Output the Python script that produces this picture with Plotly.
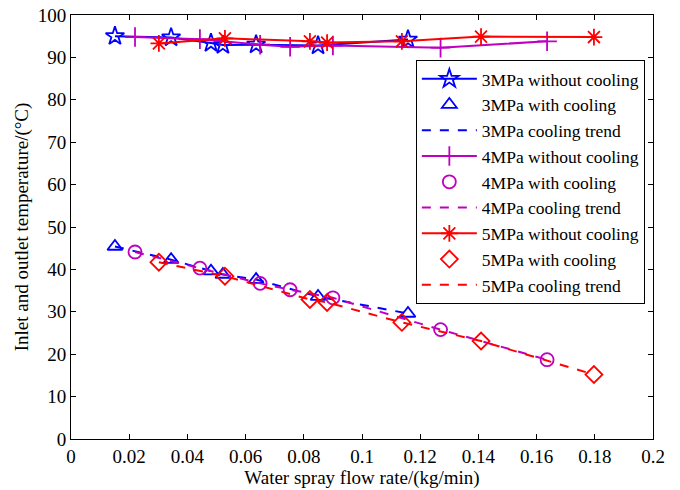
import plotly.graph_objects as go

# 3 MPa
x3 = [0.0151, 0.0344, 0.0481, 0.0522, 0.0636, 0.0849, 0.1158]
t3_no = [95.0, 94.7, 93.4, 92.9, 93.0, 92.8, 94.2]
t3_cool = [45.4, 42.3, 39.6, 38.8, 37.6, 33.6, 29.6]
# 4 MPa
x4 = [0.0220, 0.0443, 0.0650, 0.0753, 0.0900, 0.1270, 0.1636]
t4_no = [94.8, 94.3, 93.0, 92.5, 92.8, 92.3, 93.8]
t4_cool = [44.1, 40.3, 36.7, 35.2, 33.3, 25.8, 18.7]
# 5 MPa
x5 = [0.0302, 0.0529, 0.0821, 0.0880, 0.1137, 0.1409, 0.1797]
t5_no = [93.3, 94.5, 93.8, 93.5, 93.8, 94.9, 94.8]
t5_cool = [41.7, 38.4, 32.9, 32.2, 27.5, 23.1, 15.2]

xticks = [0, 0.02, 0.04, 0.06, 0.08, 0.1, 0.12, 0.14, 0.16, 0.18, 0.2]
xticklabels = ["0", "0.02", "0.04", "0.06", "0.08", "0.1", "0.12", "0.14", "0.16", "0.18", "0.2"]
yticks = [0, 10, 20, 30, 40, 50, 60, 70, 80, 90, 100]

BLUE = "#0000ff"
MAG = "#bf00bf"
RED = "#ff0000"
FONT = "Liberation Serif"
FS = 19

fig = go.Figure()

def add_group(x, tno, tcool, color, sym_no, sym_cool, label):
    fig.add_trace(go.Scatter(
        x=x, y=tno, mode="lines+markers", name=f"{label} without cooling",
        line=dict(color=color, width=2),
        marker=dict(symbol=sym_no, size=14, color=color, line=dict(color=color, width=1.8)),
    ))
    fig.add_trace(go.Scatter(
        x=x, y=tcool, mode="markers", name=f"{label} with cooling",
        marker=dict(symbol=sym_cool, size=13, color=color, line=dict(color=color, width=1.8)),
    ))
    fig.add_trace(go.Scatter(
        x=x, y=tcool, mode="lines", name=f"{label} cooling trend",
        line=dict(color=color, width=2, dash="dash"),
    ))

add_group(x3, t3_no, t3_cool, BLUE, "star-open", "triangle-up-open", "3MPa")
add_group(x4, t4_no, t4_cool, MAG, "cross-thin-open", "circle-open", "4MPa")
add_group(x5, t5_no, t5_cool, RED, "asterisk-open", "diamond-open", "5MPa")

axis_common = dict(
    showgrid=False, zeroline=False, showline=True, linecolor="black", linewidth=1,
    mirror="ticks", ticks="inside", ticklen=5, tickcolor="black", automargin=False,
    tickfont=dict(family=FONT, size=FS, color="black"),
)

fig.update_xaxes(
    range=[0, 0.2], tickvals=xticks, ticktext=xticklabels,
    title=dict(text="Water spray flow rate/(kg/min)", font=dict(family=FONT, size=FS, color="black"), standoff=0),
    **axis_common,
)
fig.update_yaxes(
    range=[0, 100], tickvals=yticks,
    title=dict(text="Inlet and outlet temperature/(°C)", font=dict(family=FONT, size=FS, color="black"), standoff=4),
    **axis_common,
)

fig.update_layout(
    width=680, height=490,
    margin=dict(l=71, r=27, t=15, b=51),
    paper_bgcolor="white", plot_bgcolor="white",
    font=dict(family=FONT, size=FS, color="black"),
    showlegend=True,
    legend=dict(
        x=0.986, y=0.894, xanchor="right", yanchor="top",
        bgcolor="white", bordercolor="black", borderwidth=1,
        font=dict(family=FONT, size=17.5, color="black"),
        tracegroupgap=0, itemwidth=55,
    ),
)

fig.write_html("out.html")
